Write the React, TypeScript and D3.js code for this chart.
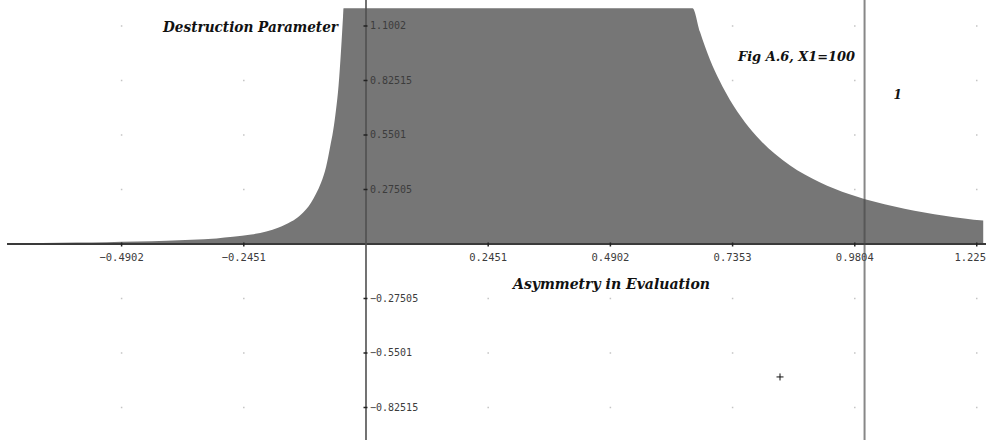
import React from "react";
import * as d3 from "d3";

const W = 989;
const H = 440;

// tick values and labels
const xTicks = [-0.4902, -0.2451, 0.2451, 0.4902, 0.7353, 0.9804, 1.225];
const xTickLabels = ["−0.4902", "−0.2451", "0.2451", "0.4902", "0.7353", "0.9804", "1.225"];
const yTicks = [-0.82515, -0.5501, -0.27505, 0.27505, 0.5501, 0.82515, 1.1002];
const yTickLabels = ["−0.82515", "−0.5501", "−0.27505", "0.27505", "0.5501", "0.82515", "1.1002"];

// curve (top is clipped in the view)
const curveX = [
  -0.72, -0.65, -0.58, -0.52, -0.459, -0.4, -0.35, -0.3, -0.267, -0.23, -0.2, -0.175,
  -0.15, -0.133, -0.12, -0.11, -0.1, -0.09, -0.08, -0.072, -0.066, -0.06, -0.055, -0.05,
  -0.046, -0.045,
  0.655, 0.67, 0.69, 0.71, 0.73, 0.76, 0.79, 0.82, 0.85, 0.88, 0.91, 0.94, 0.97, 1.001,
  1.04, 1.08, 1.12, 1.16, 1.2, 1.238,
];
const curveY = [
  0.004, 0.005, 0.007, 0.009, 0.012, 0.017, 0.022, 0.028, 0.036, 0.048, 0.063, 0.083,
  0.113, 0.143, 0.175, 0.21, 0.255, 0.31, 0.39, 0.49, 0.57, 0.68, 0.8, 0.98,
  1.15, 1.19,
  1.19, 1.07, 0.93, 0.82, 0.727, 0.615, 0.526, 0.455, 0.398, 0.351, 0.312, 0.279, 0.251, 0.226,
  0.201, 0.178, 0.159, 0.143, 0.129, 0.118,
];

// annotations
const yAxisTitle = "Destruction Parameter";
const xAxisTitle = "Asymmetry in Evaluation";
const figTitle = "Fig A.6, X1=100";
const lineLabel = "1";
const lineX = [1.0];
const markerPoint = [0.8304, -0.671];

export default function App() {
  const x = d3.scaleLinear().domain([-0.7341, 1.2496]).range([0, W]);
  const y = d3.scaleLinear().domain([1.2314, -0.9892]).range([0, H]);

  const pts = curveX.map((v, i) => [v, curveY[i]] as [number, number]);
  const area = d3
    .area<[number, number]>()
    .x((d) => x(d[0]))
    .y0(y(0))
    .y1((d) => y(d[1]))
    .curve(d3.curveMonotoneX);

  const x0 = x(0);
  const y0 = y(0);
  const tickFont = "'DejaVu Sans Mono', monospace";
  const titleFont = "'DejaVu Serif', serif";

  const dots: [number, number][] = [];
  xTicks.forEach((xv) => yTicks.forEach((yv) => dots.push([xv, yv])));

  return (
    <svg
      width={W}
      height={H}
      style={{ position: "fixed", left: 0, top: 0, background: "#fff" }}
    >
      {/* grid dots */}
      {dots.map((d, i) => (
        <rect key={i} x={x(d[0]) - 0.75} y={y(d[1]) - 0.75} width={1.5} height={1.5} fill="#c4c4c4" />
      ))}

      {/* filled area */}
      <path d={area(pts) || ""} fill="#767676" />

      {/* x axis */}
      <line x1={x(curveX[0])} x2={x(1.2496) - 3} y1={y0} y2={y0} stroke="#3a3a3a" strokeWidth={2} />
      {xTicks.map((t, i) => {
        const last = i === xTicks.length - 1;
        return (
          <g key={i}>
            <line x1={x(t)} x2={x(t)} y1={y0 - 1.5} y2={y0 + 2.5} stroke="#222" strokeWidth={1.5} />
            <text
              x={last ? W - 3 : x(t)}
              y={y0 + 17}
              textAnchor={last ? "end" : "middle"}
              fontFamily={tickFont}
              fontSize={10.5}
              fill="#3c3c3c"
            >
              {xTickLabels[i]}
            </text>
          </g>
        );
      })}

      {/* y axis */}
      <line x1={x0} x2={x0} y1={0} y2={H} stroke="#505050" strokeWidth={1.6} />
      {yTicks.map((t, i) => (
        <g key={i}>
          <line x1={x0 - 2.5} x2={x0 + 1.5} y1={y(t)} y2={y(t)} stroke="#222" strokeWidth={1.5} />
          <text
            x={x0 + 4}
            y={y(t) + 3.5}
            fontFamily={tickFont}
            fontSize={10}
            fill="#3c3c3c"
          >
            {yTickLabels[i]}
          </text>
        </g>
      ))}

      {/* vertical line x = 1 */}
      {lineX.map((v, i) => (
        <line key={i} x1={x(v)} x2={x(v)} y1={0} y2={H} stroke="rgba(70,70,70,0.65)" strokeWidth={2} />
      ))}

      {/* marker */}
      <g stroke="#111" strokeWidth={1}>
        <line x1={x(markerPoint[0]) - 3.5} x2={x(markerPoint[0]) + 3.5} y1={y(markerPoint[1])} y2={y(markerPoint[1])} />
        <line x1={x(markerPoint[0])} x2={x(markerPoint[0])} y1={y(markerPoint[1]) - 3.5} y2={y(markerPoint[1]) + 3.5} />
      </g>

      {/* titles */}
      <text
        x={163}
        y={32}
        fontFamily={titleFont}
        fontStyle="italic"
        fontWeight="bold"
        fontSize={14}
        fill="#111"
        textLength={175}
        lengthAdjust="spacingAndGlyphs"
      >
        {yAxisTitle}
      </text>
      <text
        x={513}
        y={289}
        fontFamily={titleFont}
        fontStyle="italic"
        fontWeight="bold"
        fontSize={14}
        fill="#111"
        textLength={197}
        lengthAdjust="spacingAndGlyphs"
      >
        {xAxisTitle}
      </text>
      <text
        x={738}
        y={61}
        fontFamily={titleFont}
        fontStyle="italic"
        fontWeight="bold"
        fontSize={13}
        fill="#111"
        textLength={117}
        lengthAdjust="spacingAndGlyphs"
      >
        {figTitle}
      </text>
      <text
        x={x(lineX[0]) + 29}
        y={99}
        fontFamily={titleFont}
        fontStyle="italic"
        fontWeight="bold"
        fontSize={12}
        fill="#111"
      >
        {lineLabel}
      </text>
    </svg>
  );
}
